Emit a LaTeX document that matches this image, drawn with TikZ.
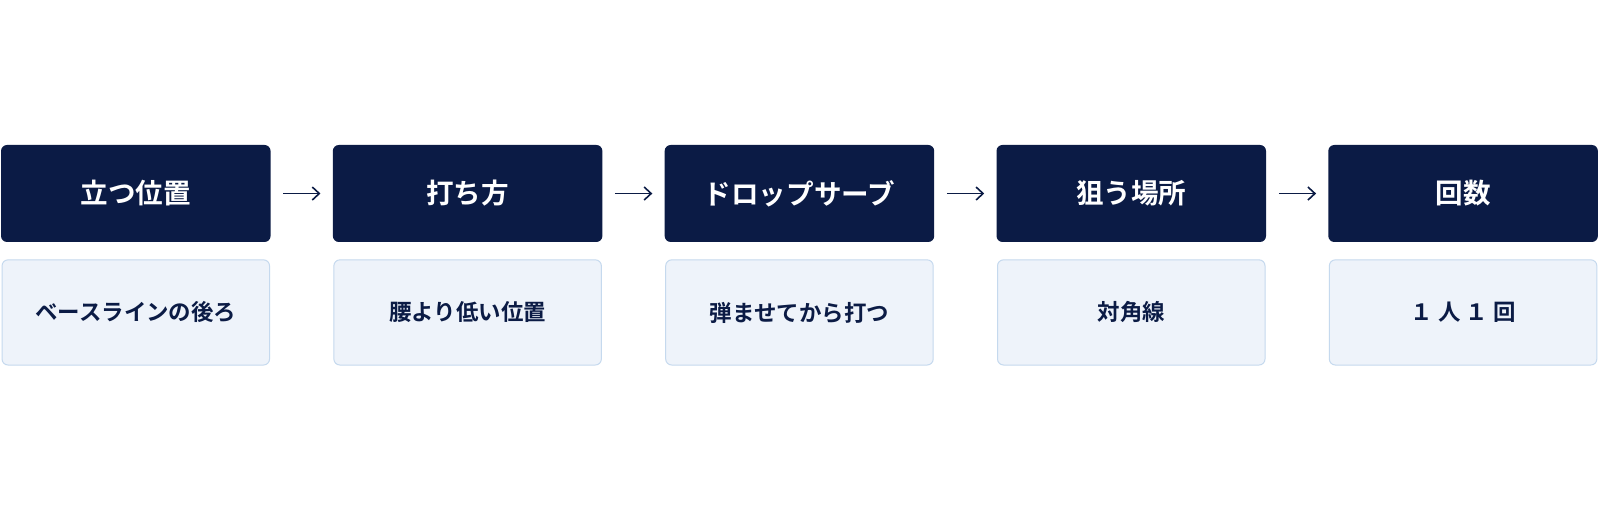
\documentclass[tikz,border=0pt]{standalone}
\usetikzlibrary{arrows.meta}
\usepackage{fontspec}
\newfontfamily\cjk{Noto Sans CJK JP}[BoldFont={Noto Sans CJK JP Bold}]
\begin{document}
\definecolor{navy}{HTML}{0B1B45}
\definecolor{lfill}{HTML}{EEF3FA}
\definecolor{lline}{HTML}{C5D9EE}
\begin{tikzpicture}[x=1pt,y=-1pt,scale=1.021,every node/.style={transform shape},
 top/.style={fill=navy,draw=none,rounded corners=6pt,minimum width=264pt,minimum height=95pt,inner sep=0pt,text=white,font=\cjk\bfseries\fontsize{27}{30}\selectfont},
 bot/.style={fill=lfill,draw=lline,line width=1pt,rounded corners=6pt,minimum width=262pt,minimum height=103pt,inner sep=0pt,text=navy,font=\cjk\bfseries\fontsize{22}{26}\selectfont},
 arr/.style={draw=navy,line width=1.6pt,-{Straight Barb[length=7pt,width=13pt]}}]
\useasboundingbox[fill=white] (0,0) rectangle (1567.1,498.5);
\foreach \i/\t/\b in {0/立つ位置/ベースラインの後ろ,1/打ち方/腰より低い位置,2/ドロップサーブ/弾ませてから打つ,3/狙う場所/対角線,4/回数/{１ 人 １ 回}}{
 \node[top] (t\i) at (133+325*\i,189.5) {\t};
 \node[bot] (b\i) at (133+325*\i,306) {\b};
}
\foreach \i/\j in {0/1,1/2,2/3,3/4}{
 \draw[arr] ([xshift=12pt]t\i.east) -- ([xshift=-12pt]t\j.west);
}
\end{tikzpicture}
\end{document}
